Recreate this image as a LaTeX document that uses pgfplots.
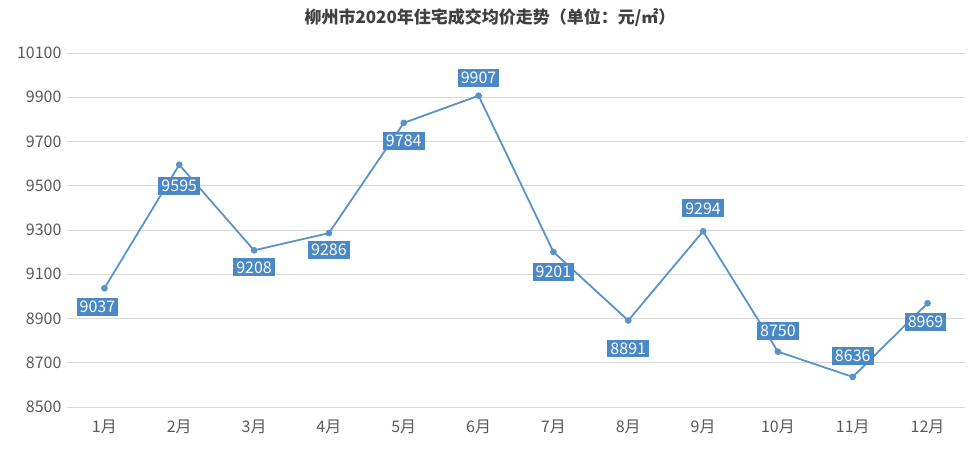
\documentclass[border=0pt]{standalone}
\usepackage{fontspec}
\setmainfont{Noto Sans CJK SC}
\usepackage{pgfplots}
\usepackage{pgfplotstable}
\pgfplotsset{compat=1.18}
\definecolor{lineblue}{HTML}{5A93C8}
\definecolor{boxblue}{HTML}{4A89C6}
\definecolor{gridgray}{HTML}{D9D9D9}
\definecolor{ticktext}{HTML}{595959}

\pgfplotstableread{
x y dx dy
1 9037 -7 -19
2 9595 0 -21
3 9208 0 -17
4 9286 0 -17
5 9784 0 -18
6 9907 0 18
7 9201 0 -20
8 8891 0 -28
9 9294 0 23
10 8750 0 21
11 8636 0 21
12 8969 -2 -19
}\prices

\begin{document}
\begin{tikzpicture}
\path[use as bounding box] (0,0) rectangle (980pt,453pt);
\node[font=\fontsize{17}{20}\selectfont\bfseries, text=black!75] at (490pt,435pt)
  {柳州市2020年住宅成交均价走势（单位：元/㎡）};
\begin{axis}[
    at={(67pt,46pt)}, anchor=south west,
    scale only axis,
    width=898pt, height=354pt,
    xmin=0.5, xmax=12.5,
    ymin=8500, ymax=10100,
    xtick={1,...,12},
    xticklabels={1月,2月,3月,4月,5月,6月,7月,8月,9月,10月,11月,12月},
    ytick={8500,8700,...,10100},
    scaled y ticks=false,
    ymajorgrids,
    grid style={gridgray, line width=0.8pt},
    axis line style={draw=none},
    axis x line*=bottom,
    major tick length=0pt,
    tick label style={text=ticktext, font=\fontsize{16}{18}\selectfont},
    /pgf/number format/assume math mode=true,
    /pgf/number format/1000 sep={},
    yticklabel style={xshift=-2pt},
    xticklabel style={yshift=-9pt},
    clip=false,
]
\draw[gridgray, line width=0.8pt] (rel axis cs:0,0) -- (rel axis cs:1,0);
\addplot[
    lineblue, line width=1.8pt,
    mark=*, mark size=2.4pt, mark options={fill=lineblue, draw=lineblue},
    visualization depends on={\thisrow{dx} \as \dx},
    visualization depends on={\thisrow{dy} \as \dy},
    nodes near coords,
    nodes near coords style={
        anchor=center, xshift=\dx pt, yshift=\dy pt,
        fill=boxblue, text=white, inner sep=3pt,
        font=\fontsize{16}{18}\selectfont,
        /pgf/number format/assume math mode=true,
        /pgf/number format/1000 sep={},
    },
] table[x=x, y=y] {\prices};
\end{axis}
\end{tikzpicture}
\end{document}
